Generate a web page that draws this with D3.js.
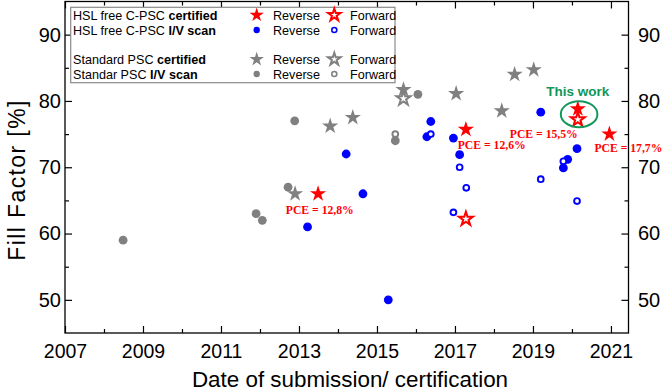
<!DOCTYPE html>
<html><head><meta charset="utf-8">
<script src="https://cdn.jsdelivr.net/npm/d3@7"></script>
<style>
html,body{margin:0;padding:0;background:#fff;}
svg{display:block;}
</style></head>
<body>
<svg id="c" width="665" height="390" font-family="Liberation Sans, Arial, sans-serif"></svg>
<script>
// ---- data (year of submission, fill factor %) ----
const hslCertRev = [[2013.49,66],[2017.28,75.7],[2020.15,78.8],[2020.96,75]];
const hslCertFwd = [[2017.28,62.2],[2020.15,77.2]];
const hslIvRev = [[2013.22,61],[2014.21,72],[2014.64,66],[2015.29,50],[2016.38,76.9],[2016.28,74.6],[2016.96,74.4],[2017.12,71.9],[2019.20,78.3],[2019.78,69.9],[2019.89,71.2],[2020.13,72.8]];
const hslIvFwd = [[2016.38,75],[2017.12,70],[2017.29,66.9],[2016.96,63.2],[2019.20,68.2],[2019.78,70.9],[2020.13,64.9]];
const stdCertRev = [[2012.90,66],[2013.80,76.2],[2014.38,77.5],[2015.68,81.7],[2017.03,81.1],[2018.20,78.5],[2018.53,84],[2019.02,84.7]];
const stdCertFwd = [[2015.68,80.35]];
const stdIvRev = [[2008.49,59],[2011.90,63],[2012.06,62],[2012.72,67],[2012.89,77],[2015.47,74],[2016.05,81]];
const stdIvFwd = [[2015.47,75]];
const pceLabels = [["PCE = 12,8%",2013.49,66],["PCE = 12,6%",2017.28,75.7],["PCE = 15,5%",2020.15,78.8],["PCE = 17,7%",2020.96,75]];
const xMajorTicks = [2007,2009,2011,2013,2015,2017,2019,2021];
const xMinorTicks = [2008,2010,2012,2014,2016,2018,2020];
const yMajorTicks = [50,60,70,80,90];
const yMinorTicks = [55,65,75,85];
const legendRows = [["HSL free C-PSC ","certified"],["HSL free C-PSC ","I/V scan"],["Standard PSC ","certified"],["Standar PSC ","I/V scan"]];

const L=65, R=628.5, T=1.5, B=333;
const svg = d3.select("#c");
const x = d3.scaleLinear().domain([2007,2021.45]).range([L,R]);
const y = d3.scaleLinear().domain([45,95]).range([B,T]);

const RED="#ff0000", BLUE="#0000ff", GRAY="#808080", GREEN="#12965a";

// axes
function ax(gen, tx, ty){ return svg.append("g").attr("transform",`translate(${tx},${ty})`).call(gen); }
const styleAx = fs => g => { g.select(".domain").remove(); g.selectAll("line").attr("stroke","#000").attr("stroke-width",1.2);
  g.selectAll("text").attr("font-size",fs).attr("fill","#000").attr("font-family","Liberation Sans, Arial, sans-serif"); };
ax(d3.axisBottom(x).tickValues(xMajorTicks).tickFormat(d3.format("d")).tickSize(-7).tickPadding(11.2),0,B).call(styleAx(19.5));
ax(d3.axisBottom(x).tickValues(xMinorTicks).tickFormat("").tickSize(-4),0,B).call(styleAx(19.5));
ax(d3.axisTop(x).tickValues(xMajorTicks).tickFormat("").tickSize(-7),0,T).call(styleAx(19.5));
ax(d3.axisTop(x).tickValues(xMinorTicks).tickFormat("").tickSize(-4),0,T).call(styleAx(19.5));
ax(d3.axisLeft(y).tickValues(yMajorTicks).tickSize(-7).tickPadding(4),L,0).call(styleAx(20));
ax(d3.axisLeft(y).tickValues(yMinorTicks).tickFormat("").tickSize(-4),L,0).call(styleAx(20));
ax(d3.axisRight(y).tickValues(yMajorTicks).tickSize(-7).tickPadding(9.5),R,0).call(styleAx(20));
ax(d3.axisRight(y).tickValues(yMinorTicks).tickFormat("").tickSize(-4),R,0).call(styleAx(20));
svg.append("rect").attr("x",L).attr("y",T).attr("width",R-L).attr("height",B-T)
  .attr("fill","none").attr("stroke","#000").attr("stroke-width",1.3);

// titles
svg.append("text").attr("x",350).attr("y",386.5).attr("text-anchor","middle")
  .attr("font-size",22.4).text("Date of submission/ certification");
svg.append("text").attr("transform","translate(25,180) rotate(-90)").attr("text-anchor","middle")
  .attr("font-size",23).attr("letter-spacing",1.4).text("Fill Factor [%]");

// legend
const lg = svg.append("g");
lg.append("rect").attr("x",70.7).attr("y",7.3).attr("width",324.3).attr("height",75.4)
  .attr("fill","#fff").attr("stroke","#8a8a8a").attr("stroke-width",1.2);
const rowY=[15,30,59.3,74];
legendRows.forEach((r,i)=>{
  const t=lg.append("text").attr("x",73).attr("y",rowY[i]).attr("dy","0.36em").attr("font-size",12.6);
  t.append("tspan").text(r[0]); t.append("tspan").attr("font-weight","bold").text(r[1]);
  lg.append("text").attr("x",273).attr("y",rowY[i]).attr("dy","0.36em").attr("font-size",12.6).text("Reverse");
  lg.append("text").attr("x",350).attr("y",rowY[i]).attr("dy","0.36em").attr("font-size",12.6).text("Forward");
});
const star = s => d3.symbol().type(d3.symbolStar).size(s)();
function sym(g, type, color, open, cx, cy, big){
  if(type==="star"){
    g.append("path").attr("d",star(open?(big?60:48):(big?82:64))).attr("transform",`translate(${cx},${cy})`)
      .attr("fill",open?"#fff":color).attr("stroke",open?color:"none").attr("stroke-width",open?2:0);
  } else {
    if(open) g.append("circle").attr("cx",cx).attr("cy",cy).attr("r",big?2.9:2.5).attr("fill","#fff").attr("stroke",color).attr("stroke-width",big?1.9:1.6);
    else g.append("circle").attr("cx",cx).attr("cy",cy).attr("r",big?4.4:3.2).attr("fill",color);
  }
}
const legSpec=[["star",RED],["circle",BLUE],["star",GRAY],["circle",GRAY]];
legSpec.forEach((s,i)=>{ sym(lg,s[0],s[1],false,256.7,rowY[i],false); sym(lg,s[0],s[1],true,334.3,rowY[i],false); });

// data marks
const pg = svg.append("g");
const series=[[stdIvRev,"circle",GRAY,false],[stdIvFwd,"circle",GRAY,true],[stdCertRev,"star",GRAY,false],[stdCertFwd,"star",GRAY,true],
  [hslIvRev,"circle",BLUE,false],[hslIvFwd,"circle",BLUE,true],[hslCertRev,"star",RED,false],[hslCertFwd,"star",RED,true]];
series.forEach(s=>s[0].forEach(d=>sym(pg,s[1],s[2],s[3],x(d[0]),y(d[1]),true)));

// annotations
const pceOff=[[1.7,20.5],[25.8,19.6],[-34,29],[19,17.4]];
pceLabels.forEach((p,i)=>{
  svg.append("text").attr("x",x(p[1])+pceOff[i][0]).attr("y",y(p[2])+pceOff[i][1]).attr("text-anchor","middle")
   .attr("font-family","Liberation Serif, Times New Roman, serif").attr("font-weight","bold").attr("font-size",13.5)
   .attr("textLength",68).attr("lengthAdjust","spacingAndGlyphs")
   .attr("fill",RED).text(p[0]);
});
svg.append("ellipse").attr("cx",x(2020.15)+1.3).attr("cy",y(78)).attr("rx",18.3).attr("ry",13)
  .attr("fill","none").attr("stroke",GREEN).attr("stroke-width",2);
svg.append("text").attr("x",x(2020.15)).attr("y",96).attr("text-anchor","middle").attr("font-weight","bold")
  .attr("font-size",13.5).attr("fill",GREEN).text("This work");
</script>
</body></html>
